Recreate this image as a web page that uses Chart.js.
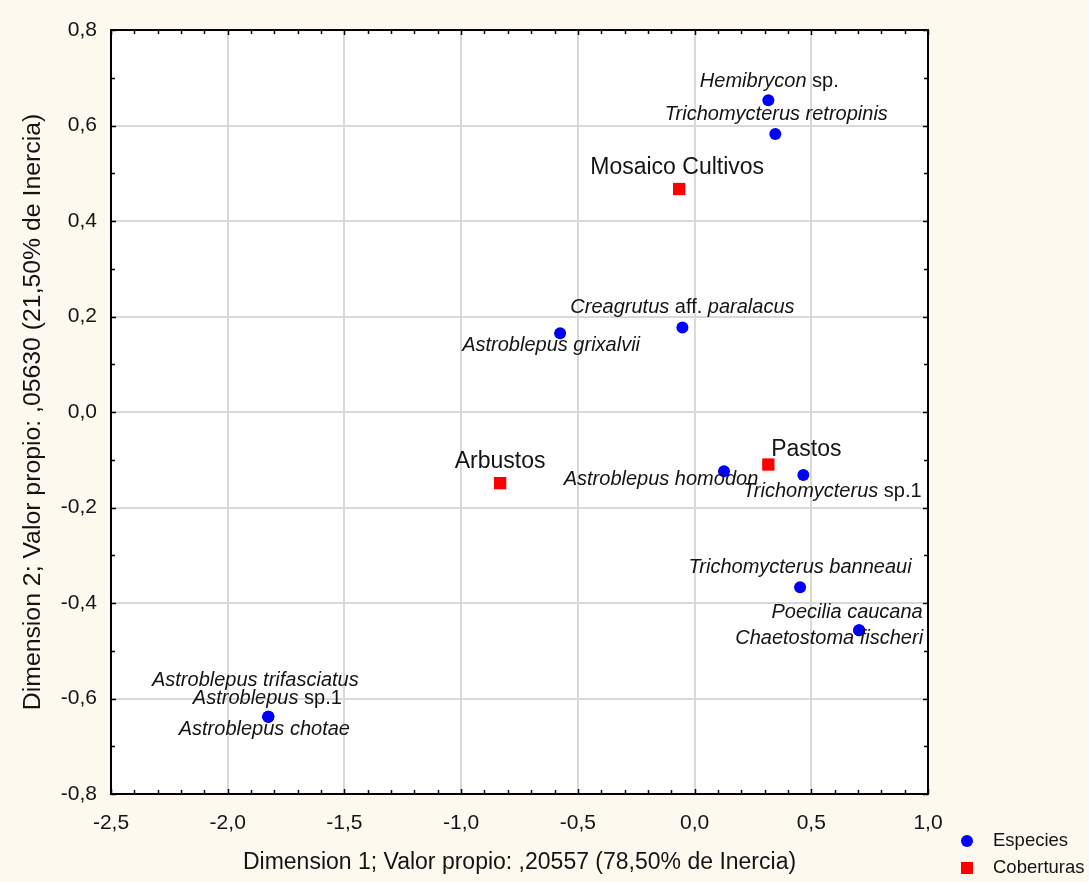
<!DOCTYPE html>
<html>
<head>
<meta charset="utf-8">
<script src="https://cdn.jsdelivr.net/npm/chart.js@4/dist/chart.umd.min.js"></script>
<style>
  html, body { margin: 0; padding: 0; background: #fdf9ef; }
  #wrap { width: 1089px; height: 882px; }
</style>
</head>
<body>
<div id="wrap"><canvas id="ca" width="1089" height="882"></canvas></div>
<script>
// Correspondence analysis: species scores and land-cover scores on dimensions 1 and 2
const especies = [
  'Hemibrycon sp.',
  'Trichomycterus retropinis',
  'Creagrutus aff. paralacus',
  'Astroblepus grixalvii',
  'Astroblepus homodon',
  'Trichomycterus sp.1',
  'Trichomycterus banneaui',
  'Poecilia caucana',
  'Chaetostoma fischeri',
  'Astroblepus trifasciatus',
  'Astroblepus sp.1',
  'Astroblepus chotae'
];
const dim1Especies = [0.316, 0.346, -0.052, -0.576, 0.126, 0.466, 0.452, 0.705, 0.705, -1.826, -1.826, -1.826];
const dim2Especies = [0.653, 0.582, 0.177, 0.165, -0.124, -0.132, -0.367, -0.457, -0.457, -0.638, -0.638, -0.638];

const coberturas = ['Mosaico Cultivos', 'Arbustos', 'Pastos'];
const dim1Coberturas = [-0.066, -0.833, 0.316];
const dim2Coberturas = [0.467, -0.149, -0.110];

const xTitle = 'Dimension 1; Valor propio: ,20557 (78,50% de Inercia)';
const yTitle = 'Dimension 2; Valor propio: ,05630 (21,50% de Inercia)';
const serieNames = ['Especies', 'Coberturas'];

// label placement relative to each marker (pixels, label centre)
const especiesLabelOffset = [
  [1, -19], [1, -20], [0, -20], [-9, 12], [-63, 8], [29, 16],
  [0, -20], [-12, -18], [-30, 8], [-13, -36], [-1, -18], [-4, 13]
];
const coberturasLabelOffset = [[-2, -21], [0, -21], [38, -15]];

const FONT = '"Liberation Sans", Arial, sans-serif';
const TEXT = '#141414';
const upright = /^(sp\.|sp\.1|aff\.)$/;

function fmt(v) { return (Math.round(v * 10) / 10).toFixed(1).replace('.', ','); }

// species names: genus/epithet italic, "sp.", "sp.1" and "aff." upright
function drawSpecies(ctx, name, cx, cy, size) {
  const words = name.split(' ');
  const parts = words.map((w, i) => ({ t: (i ? ' ' : '') + w, it: !upright.test(w) }));
  let total = 0;
  parts.forEach(p => {
    ctx.font = (p.it ? 'italic ' : '') + size + 'px ' + FONT;
    p.w = ctx.measureText(p.t).width;
    total += p.w;
  });
  let x = cx - total / 2;
  ctx.textAlign = 'left';
  ctx.textBaseline = 'middle';
  parts.forEach(p => {
    ctx.font = (p.it ? 'italic ' : '') + size + 'px ' + FONT;
    ctx.fillText(p.t, x, cy);
    x += p.w;
  });
}

const decor = {
  id: 'decor',
  beforeDraw(chart) {
    const { ctx, chartArea: a } = chart;
    ctx.save();
    ctx.fillStyle = '#fdf9ef';
    ctx.fillRect(0, 0, chart.width, chart.height);
    ctx.fillStyle = '#ffffff';
    ctx.fillRect(a.left, a.top, a.right - a.left, a.bottom - a.top);
    ctx.restore();
  },
  afterDatasetsDraw(chart) {
    const { ctx } = chart;
    const xs = chart.scales.x, ys = chart.scales.y;
    ctx.save();
    ctx.fillStyle = TEXT;
    especies.forEach((n, i) => {
      const px = xs.getPixelForValue(dim1Especies[i]);
      const py = ys.getPixelForValue(dim2Especies[i]);
      const o = especiesLabelOffset[i];
      drawSpecies(ctx, n, px + o[0], py + o[1], 20);
    });
    ctx.font = '23px ' + FONT;
    ctx.textAlign = 'center';
    ctx.textBaseline = 'middle';
    coberturas.forEach((n, i) => {
      const px = xs.getPixelForValue(dim1Coberturas[i]);
      const py = ys.getPixelForValue(dim2Coberturas[i]);
      const o = coberturasLabelOffset[i];
      ctx.fillText(n, px + o[0], py + o[1]);
    });
    ctx.restore();
  },
  afterDraw(chart) {
    const { ctx, chartArea: a } = chart;
    const xs = chart.scales.x, ys = chart.scales.y;
    ctx.save();
    ctx.strokeStyle = '#000';
    ctx.lineWidth = 1.5;
    ctx.beginPath();
    // minor ticks every 0.1 on all four sides, pointing inwards
    for (let k = 0; k <= 35; k++) {
      const v = -2.5 + k * 0.1;
      const px = Math.round(xs.getPixelForValue(v)) + 0.5;
      const len = k % 5 === 0 ? 5 : 4;
      ctx.moveTo(px, a.bottom); ctx.lineTo(px, a.bottom - len);
      ctx.moveTo(px, a.top); ctx.lineTo(px, a.top + len);
    }
    for (let k = 0; k <= 16; k++) {
      const v = -0.8 + k * 0.1;
      const py = Math.round(ys.getPixelForValue(v)) + 0.5;
      const len = k % 2 === 0 ? 5 : 4;
      ctx.moveTo(a.left, py); ctx.lineTo(a.left + len, py);
      ctx.moveTo(a.right, py); ctx.lineTo(a.right - len, py);
    }
    ctx.stroke();
    // frame
    ctx.lineWidth = 2;
    ctx.strokeRect(a.left, a.top, a.right - a.left, a.bottom - a.top);

    // legend
    const ds = chart.data.datasets;
    ctx.fillStyle = ds[0].backgroundColor;
    ctx.beginPath();
    ctx.arc(967, 841, 6, 0, Math.PI * 2);
    ctx.fill();
    ctx.fillStyle = ds[1].backgroundColor;
    ctx.fillRect(961, 862, 12, 12);
    ctx.fillStyle = TEXT;
    ctx.font = '18.5px ' + FONT;
    ctx.textAlign = 'left';
    ctx.textBaseline = 'middle';
    ctx.fillText(ds[0].label, 993, 841);
    ctx.fillText(ds[1].label, 993, 868);
    ctx.restore();
  }
};

new Chart(document.getElementById('ca'), {
  type: 'scatter',
  data: {
    datasets: [
      {
        label: serieNames[0],
        data: especies.map((n, i) => ({ x: dim1Especies[i], y: dim2Especies[i] })),
        backgroundColor: '#0000ff',
        borderColor: '#0000ff',
        pointStyle: 'circle',
        pointRadius: 6,
        pointHoverRadius: 6,
        borderWidth: 0
      },
      {
        label: serieNames[1],
        data: coberturas.map((n, i) => ({ x: dim1Coberturas[i], y: dim2Coberturas[i] })),
        backgroundColor: '#ff0000',
        borderColor: '#ff0000',
        pointStyle: 'rect',
        pointRadius: 8.7,
        pointHoverRadius: 8.7,
        borderWidth: 0
      }
    ]
  },
  options: {
    responsive: false,
    animation: false,
    devicePixelRatio: 1,
    layout: { padding: { left: 0, top: 30, right: 161, bottom: 0 } },
    plugins: { legend: { display: false }, tooltip: { enabled: false } },
    scales: {
      x: {
        type: 'linear',
        min: -2.5, max: 1.0,
        afterFit(s) { s.height = 88; },
        ticks: {
          stepSize: 0.5,
          padding: 17,
          color: TEXT,
          font: { family: FONT, size: 21 },
          callback: v => fmt(v)
        },
        grid: { color: '#d9d9d9', lineWidth: 2, drawTicks: false },
        border: { display: false },
        title: {
          display: true,
          text: xTitle,
          color: TEXT,
          font: { family: FONT, size: 23 },
          padding: { top: 0, bottom: 6 }
        }
      },
      y: {
        type: 'linear',
        min: -0.8, max: 0.8,
        afterFit(s) { s.width = 111; },
        ticks: {
          stepSize: 0.2,
          padding: 14,
          color: TEXT,
          font: { family: FONT, size: 21 },
          callback: v => fmt(v)
        },
        grid: { color: '#d9d9d9', lineWidth: 2, drawTicks: false },
        border: { display: false },
        title: {
          display: true,
          text: yTitle,
          color: TEXT,
          font: { family: FONT, size: 24.8 },
          padding: { top: 18, bottom: 0 }
        }
      }
    }
  },
  plugins: [decor]
});
</script>
</body>
</html>
